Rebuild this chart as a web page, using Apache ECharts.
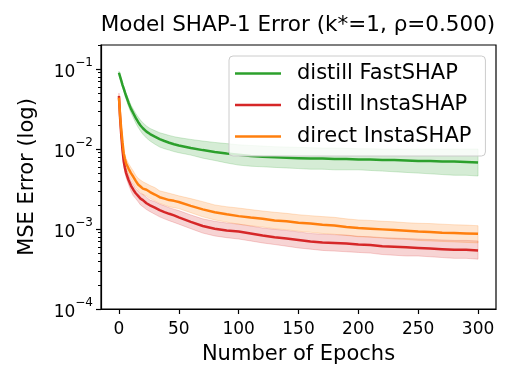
<!DOCTYPE html>
<html>
<head>
<meta charset="utf-8">
<script src="https://cdn.jsdelivr.net/npm/echarts@6/dist/echarts.min.js"></script>
<style>
html, body { margin: 0; padding: 0; background: #fff; }
#container { width: 515px; height: 386px; }
</style>
</head>
<body>
<div id="container"></div>
<script>
var dom     = document.getElementById("container");
var myChart = echarts.init(dom, null, {renderer: 'canvas'});
var FONT    = "'DejaVu Sans', sans-serif";

var epochs = [0,1,2,3,4,5,6,8,10,12,14,16,18,20,23,26,30,34,38,42,46,50,60,70,80,90,100,
              110,120,130,140,150,160,170,180,190,200,210,220,230,240,250,260,270,280,290,300];

// distill FastSHAP
var fastMean = [0.090,0.080,0.071,0.063,0.057,0.051,0.046,0.038,0.032,0.028,0.0245,0.0218,0.0197,0.0182,0.0165,0.0154,
                0.0143,0.0133,0.0126,0.0120,0.0115,0.0111,0.0103,0.0097,0.0092,0.0088,0.0085,0.0082,0.0080,0.0079,0.0078,
                0.0077,0.0076,0.0076,0.0075,0.0075,0.0074,0.0074,0.0073,0.0073,0.0072,0.0071,0.0071,0.0070,0.0070,0.0069,0.0068];
var fastUpper = [0.094,0.084,0.075,0.067,0.061,0.055,0.050,0.042,0.0355,0.0315,0.0280,0.0252,0.0230,0.0213,0.0194,0.0181,
                 0.0170,0.0160,0.0154,0.0148,0.0143,0.0139,0.0132,0.0126,0.0121,0.0117,0.0113,0.0111,0.0109,0.0107,0.0106,
                 0.0105,0.0104,0.0103,0.0103,0.0102,0.0101,0.0101,0.0100,0.0100,0.0100,0.0100,0.0100,0.0100,0.0100,0.0100,0.0100];
var fastLower = [0.086,0.076,0.067,0.059,0.053,0.047,0.042,0.034,0.0285,0.0245,0.0212,0.0187,0.0168,0.0153,0.0137,0.0126,
                 0.0115,0.0106,0.0101,0.0097,0.0093,0.0090,0.0084,0.0077,0.0072,0.0067,0.0063,0.0061,0.0060,0.0059,0.0058,
                 0.0057,0.0056,0.0056,0.0055,0.0055,0.0055,0.0054,0.0053,0.0052,0.0051,0.0050,0.0049,0.0048,0.0047,0.0047,0.0046];

// distill InstaSHAP
var distMean = [0.046,0.024,0.0145,0.0096,0.0070,0.0058,0.0050,0.0041,0.0035,0.0031,0.0028,0.0026,0.0024,0.0023,0.0021,0.00198,
                0.00185,0.00172,0.00163,0.00155,0.00148,0.0014,0.00123,0.00109,0.00101,0.00096,0.00093,0.00088,0.00083,0.00079,
                0.00076,0.00073,0.0007,0.00068,0.00067,0.00066,0.00064,0.00063,0.00061,0.0006,0.00059,0.00058,0.00057,0.00056,
                0.00055,0.00055,0.00054];
var distUpper = [0.050,0.026,0.016,0.0106,0.0078,0.0066,0.0057,0.0047,0.0040,0.0036,0.0032,0.0030,0.0028,0.0027,0.0025,0.0023,
                 0.0022,0.00205,0.00195,0.00185,0.00177,0.0017,0.0015,0.00134,0.00125,0.00119,0.00115,0.00109,0.00103,0.00099,
                 0.00096,0.00092,0.00088,0.00086,0.00085,0.00084,0.00081,0.0008,0.00078,0.00077,0.00076,0.00075,0.00074,0.00073,
                 0.00072,0.00072,0.00071];
var distLower = [0.042,0.022,0.013,0.0086,0.0062,0.0051,0.0044,0.0036,0.0030,0.0026,0.0024,0.0022,0.0020,0.0019,0.00175,0.00165,
                 0.00153,0.00142,0.00134,0.00127,0.00121,0.00115,0.00101,0.00089,0.00082,0.00078,0.00075,0.00071,0.00067,0.00064,
                 0.00061,0.00058,0.00056,0.00054,0.00053,0.00052,0.00051,0.0005,0.00048,0.00047,0.00046,0.00046,0.00045,0.00044,
                 0.00043,0.00043,0.00042];

// direct InstaSHAP
var directMean = [0.044,0.026,0.017,0.0120,0.0088,0.0075,0.0066,0.0057,0.0050,0.0045,0.0040,0.0036,0.0034,0.0032,0.0031,0.0029,
                  0.0027,0.0025,0.0024,0.0023,0.00225,0.00218,0.00195,0.00176,0.00162,0.00153,0.00145,0.00139,0.00134,0.00128,
                  0.00125,0.0012,0.00117,0.00113,0.00111,0.00106,0.00103,0.00101,0.00099,0.00097,0.00095,0.00093,0.00092,0.0009,
                  0.00089,0.00088,0.00087];
var directUpper = [0.047,0.028,0.0185,0.0132,0.0098,0.0085,0.0076,0.0066,0.0059,0.0053,0.0047,0.0043,0.0041,0.0039,0.0037,0.0035,
                   0.0033,0.0030,0.0029,0.0028,0.0027,0.0026,0.0024,0.0022,0.0020,0.0019,0.00183,0.00175,0.00168,0.00162,
                   0.00157,0.00151,0.00147,0.00143,0.0014,0.00134,0.0013,0.00128,0.00125,0.00123,0.0012,0.00118,0.00117,0.00115,
                   0.00113,0.00112,0.0011];
var directLower = [0.041,0.024,0.0155,0.0108,0.0079,0.0066,0.0057,0.0049,0.0043,0.0038,0.0034,0.0031,0.0029,0.0027,0.0026,0.0024,
                   0.00225,0.0021,0.002,0.0019,0.00185,0.0018,0.0016,0.00142,0.0013,0.00122,0.00115,0.0011,0.00106,0.00101,
                   0.00098,0.00094,0.00091,0.00088,0.00086,0.00083,0.0008,0.00079,0.00077,0.00075,0.00074,0.00072,0.00071,0.0007,
                   0.00069,0.00068,0.00067];

var xTicks      = [0, 50, 100, 150, 200, 250, 300];
var yMajorTicks = [0.0001, 0.001, 0.01, 0.1];
var yMinorTicks = [0.0002,0.0003,0.0004,0.0005,0.0006,0.0007,0.0008,0.0009,
                   0.002,0.003,0.004,0.005,0.006,0.007,0.008,0.009,
                   0.02,0.03,0.04,0.05,0.06,0.07,0.08,0.09,
                   0.2];

function pairs(xs, ys) {
    var out = [];
    for (var i = 0; i < xs.length; i++) out.push([xs[i], ys[i]]);
    return out;
}

// shaded band (fill_between) drawn as one polygon through api.coord
function bandSeries(name, lower, upper, rgb) {
    var data = [];
    for (var i = 0; i < epochs.length; i++) data.push([epochs[i], lower[i], upper[i]]);
    return {
        name: name + ' band',
        type: 'custom',
        silent: true,
        clip: true,
        encode: {x: 0, y: [1, 2]},
        data: data,
        renderItem: function (params, api) {
            if (params.dataIndex !== 0) return null;
            var pts = [];
            for (var i = 0; i < epochs.length; i++) pts.push(api.coord([epochs[i], upper[i]]));
            for (var j = epochs.length - 1; j >= 0; j--) pts.push(api.coord([epochs[j], lower[j]]));
            return {
                type: 'polygon',
                shape: {points: pts},
                style: {fill: 'rgba(' + rgb + ',0.2)', stroke: 'rgba(' + rgb + ',0.2)', lineWidth: 1}
            };
        }
    };
}

function lineSeries(name, mean, color) {
    return {
        name: name,
        type: 'line',
        data: pairs(epochs, mean),
        symbol: 'none',
        showSymbol: false,
        lineStyle: {color: color, width: 2.5},
        itemStyle: {color: color},
        z: 3
    };
}

// 10^-k labels with a real superscript
function powLabel(value) {
    var r = Math.round(Math.log10(value));
    return '{b|10}{s|\u2212' + (-r) + '}';
}

option = {
    backgroundColor: '#fff',
    animation: false,
    title: {
        text: 'Model SHAP-1 Error (k*=1, \u03c1=0.500)',
        left: 298,
        top: 14,
        textAlign: 'center',
        padding: 0,
        textStyle: {fontFamily: FONT, fontSize: 21.5, fontWeight: 'normal', color: '#000'}
    },
    legend: {
        data: ['distill FastSHAP', 'distill InstaSHAP', 'direct InstaSHAP'],
        orient: 'vertical',
        left: 229,
        top: 56,
        padding: [7, 14, 9, 6],
        itemGap: 10.5,
        icon: 'rect',
        itemWidth: 46,
        itemHeight: 2.5,
        backgroundColor: 'rgba(255,255,255,0.8)',
        borderColor: '#cccccc',
        borderWidth: 1,
        borderRadius: 4,
        textStyle: {fontFamily: FONT, fontSize: 21, color: '#000', padding: [0, 0, 0, 11]}
    },
    grid: {
        left: 101,
        top: 45,
        width: 395,
        height: 264,
        show: true,
        borderColor: '#000',
        borderWidth: 1.2,
        backgroundColor: 'transparent'
    },
    xAxis: {
        type: 'value',
        min: -15,
        max: 315,
        name: 'Number of Epochs',
        nameLocation: 'middle',
        nameGap: 35,
        nameTextStyle: {fontFamily: FONT, fontSize: 21, color: '#000'},
        axisLine: {show: true, onZero: false, lineStyle: {color: '#000', width: 1.2}},
        axisTick: {show: true, length: 5, customValues: xTicks, lineStyle: {color: '#000', width: 1.2}},
        axisLabel: {customValues: xTicks, margin: 12, fontFamily: FONT, fontSize: 17, color: '#000'},
        splitLine: {show: false}
    },
    yAxis: [
        {
            type: 'log',
            logBase: 10,
            min: 0.0001,
            max: 0.2,
            name: 'MSE Error (log)',
            nameLocation: 'middle',
            nameGap: 63,
            nameTextStyle: {fontFamily: FONT, fontSize: 21, color: '#000'},
            axisLine: {show: true, onZero: false, lineStyle: {color: '#000', width: 1.2}},
            axisTick: {show: true, length: 5, customValues: yMajorTicks, lineStyle: {color: '#000', width: 1.2}},
            axisLabel: {
                customValues: yMajorTicks,
                margin: 8,
                formatter: powLabel,
                fontFamily: FONT,
                color: '#000',
                rich: {
                    b: {fontFamily: FONT, fontSize: 17, color: '#000', lineHeight: 24, verticalAlign: 'bottom'},
                    s: {fontFamily: FONT, fontSize: 12, color: '#000', lineHeight: 24, verticalAlign: 'top'}
                }
            },
            splitLine: {show: false}
        },
        {
            // minor ticks
            type: 'log',
            logBase: 10,
            min: 0.0001,
            max: 0.2,
            position: 'left',
            axisLine: {show: false, onZero: false},
            axisTick: {show: true, length: 3, customValues: yMinorTicks, lineStyle: {color: '#000', width: 1}},
            axisLabel: {show: false},
            splitLine: {show: false}
        }
    ],
    series: [
        bandSeries('distill FastSHAP', fastLower, fastUpper, '44,160,44'),
        lineSeries('distill FastSHAP', fastMean, '#2ca02c'),
        bandSeries('distill InstaSHAP', distLower, distUpper, '214,39,40'),
        lineSeries('distill InstaSHAP', distMean, '#d62728'),
        bandSeries('direct InstaSHAP', directLower, directUpper, '255,127,14'),
        lineSeries('direct InstaSHAP', directMean, '#ff7f0e')
    ]
};

myChart.setOption(option);
</script>
</body>
</html>
